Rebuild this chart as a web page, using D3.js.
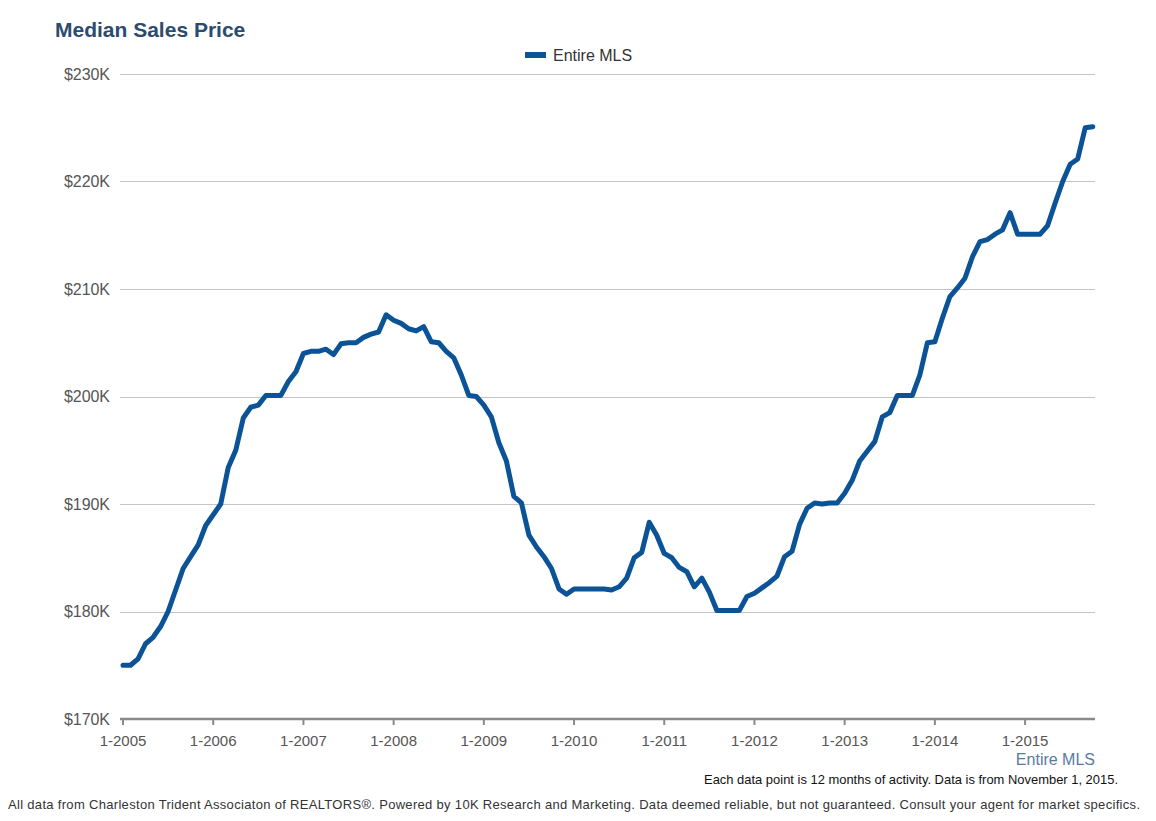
<!DOCTYPE html>
<meta charset="utf-8">
<style>
  body {
    margin: 0;
    background: #fff;
    font-family: "Liberation Sans", Arial, Helvetica, sans-serif;
  }
  .grid line {
    stroke: #c4c4c4;
    stroke-width: 1;
  }
  .ylabel, .xlabel {
    fill: #555;
    font-size: 15px;
  }
</style>
<body>
</body>
<script src="https://cdn.jsdelivr.net/npm/d3@7"></script>
<script>

// monthly points, Jan 2005 .. Oct 2015, in $K
var startYear = 2005;
var prices = [
  175.0, 175.0, 175.6, 177.0, 177.6, 178.6, 180.0, 182.0, 184.0, 185.1, 186.2, 188.0,
  189.0, 190.0, 193.4, 195.0, 198.0, 199.0, 199.2, 200.1, 200.1, 200.1, 201.4, 202.3,
  204.0, 204.2, 204.2, 204.4, 203.9, 204.9, 205.0, 205.0, 205.5, 205.8, 206.0, 207.6,
  207.1, 206.8, 206.3, 206.1, 206.5, 205.1, 205.0, 204.2, 203.6, 202.0, 200.1, 200.0,
  199.2, 198.1, 195.7, 194.0, 190.7, 190.1, 187.1, 186.0, 185.1, 184.0, 182.1, 181.6,
  182.1, 182.1, 182.1, 182.1, 182.1, 182.0, 182.3, 183.1, 185.0, 185.5, 188.3, 187.1,
  185.4, 185.0, 184.1, 183.7, 182.3, 183.1, 181.8, 180.1, 180.1, 180.1, 180.1, 181.4,
  181.7, 182.2, 182.7, 183.3, 185.1, 185.6, 188.1, 189.6, 190.1, 190.0, 190.1, 190.1,
  191.0, 192.2, 194.0, 194.9, 195.8, 198.1, 198.5, 200.1, 200.1, 200.1, 202.0, 205.0,
  205.1, 207.3, 209.3, 210.1, 211.0, 213.0, 214.4, 214.6, 215.1, 215.5, 217.1, 215.1,
  215.1, 215.1, 215.1, 215.9, 218.0, 220.0, 221.6, 222.1, 225.0, 225.1
];
var yTicks = [170, 180, 190, 200, 210, 220, 230];
var xTickYears = [2005, 2006, 2007, 2008, 2009, 2010, 2011, 2012, 2013, 2014, 2015];
var seriesName = "Entire MLS";

var width = 1156,
    height = 821;

var plotLeft = 123, plotRight = 1095, plotTop = 74, plotBottom = 719;

var x = d3.scaleLinear()
    .domain([0, 129.3])
    .range([plotLeft, plotRight]);

var y = d3.scaleLinear()
    .domain([170, 230])
    .range([plotBottom, plotTop]);

var svg = d3.select("body").append("svg")
    .attr("width", width)
    .attr("height", height);

// title
svg.append("text")
    .attr("x", 55)
    .attr("y", 37)
    .style("font-size", "21px")
    .style("font-weight", "bold")
    .style("fill", "#2b4b6f")
    .text("Median Sales Price");

// legend
svg.append("rect")
    .attr("x", 525)
    .attr("y", 52)
    .attr("width", 21)
    .attr("height", 6)
    .style("fill", "#0b5396");

svg.append("text")
    .attr("x", 553)
    .attr("y", 61)
    .style("font-size", "16px")
    .style("fill", "#333")
    .text(seriesName);

// gridlines
svg.append("g")
    .attr("class", "grid")
  .selectAll("line")
    .data(yTicks.slice(1))
  .enter().append("line")
    .attr("x1", plotLeft - 3)
    .attr("x2", plotRight)
    .attr("y1", d => Math.round(y(d)) + 0.5)
    .attr("y2", d => Math.round(y(d)) + 0.5);

svg.selectAll(".ylabel")
    .data(yTicks)
  .enter().append("text")
    .attr("class", "ylabel")
    .attr("x", 110)
    .attr("y", d => y(d) + 5.5)
    .attr("text-anchor", "end")
    .style("font-size", "16px")
    .attr("textLength", 46)
    .text(d => "$" + d + "K");

// x axis
var xAxis = svg.append("g");

xAxis.append("line")
    .attr("x1", plotLeft - 3)
    .attr("x2", plotRight)
    .attr("y1", plotBottom)
    .attr("y2", plotBottom)
    .style("stroke", "#8a8a8a")
    .style("stroke-width", 2.5);

xAxis.selectAll(".tick")
    .data(xTickYears)
  .enter().append("line")
    .attr("x1", d => x((d - startYear) * 12))
    .attr("x2", d => x((d - startYear) * 12))
    .attr("y1", plotBottom)
    .attr("y2", plotBottom + 6)
    .style("stroke", "#8a8a8a")
    .style("stroke-width", 2);

xAxis.selectAll(".xlabel")
    .data(xTickYears)
  .enter().append("text")
    .attr("class", "xlabel")
    .attr("x", d => x((d - startYear) * 12))
    .attr("y", 746)
    .attr("text-anchor", "middle")
    .text(d => "1-" + d);

svg.append("text")
    .attr("x", plotRight)
    .attr("y", 765)
    .attr("text-anchor", "end")
    .style("font-size", "16px")
    .style("fill", "#5a7aa3")
    .text(seriesName);

// the line
var line = d3.line()
    .x((d, i) => x(i))
    .y(d => y(d));

svg.append("path")
    .datum(prices)
    .attr("d", line)
    .style("fill", "none")
    .style("stroke", "#0b5396")
    .style("stroke-width", 5)
    .style("stroke-linejoin", "round")
    .style("stroke-linecap", "round");

// notes
svg.append("text")
    .attr("x", 1118)
    .attr("y", 784)
    .attr("text-anchor", "end")
    .style("font-size", "13.5px")
    .style("fill", "#111")
    .attr("textLength", 414)
    .attr("lengthAdjust", "spacingAndGlyphs")
    .text("Each data point is 12 months of activity. Data is from November 1, 2015.");

svg.append("text")
    .attr("x", 8)
    .attr("y", 809)
    .style("font-size", "13px")
    .style("fill", "#333")
    .attr("textLength", 1132)
    .text("All data from Charleston Trident Associaton of REALTORS\u00ae. Powered by 10K Research and Marketing. Data deemed reliable, but not guaranteed. Consult your agent for market specifics.");

</script>
